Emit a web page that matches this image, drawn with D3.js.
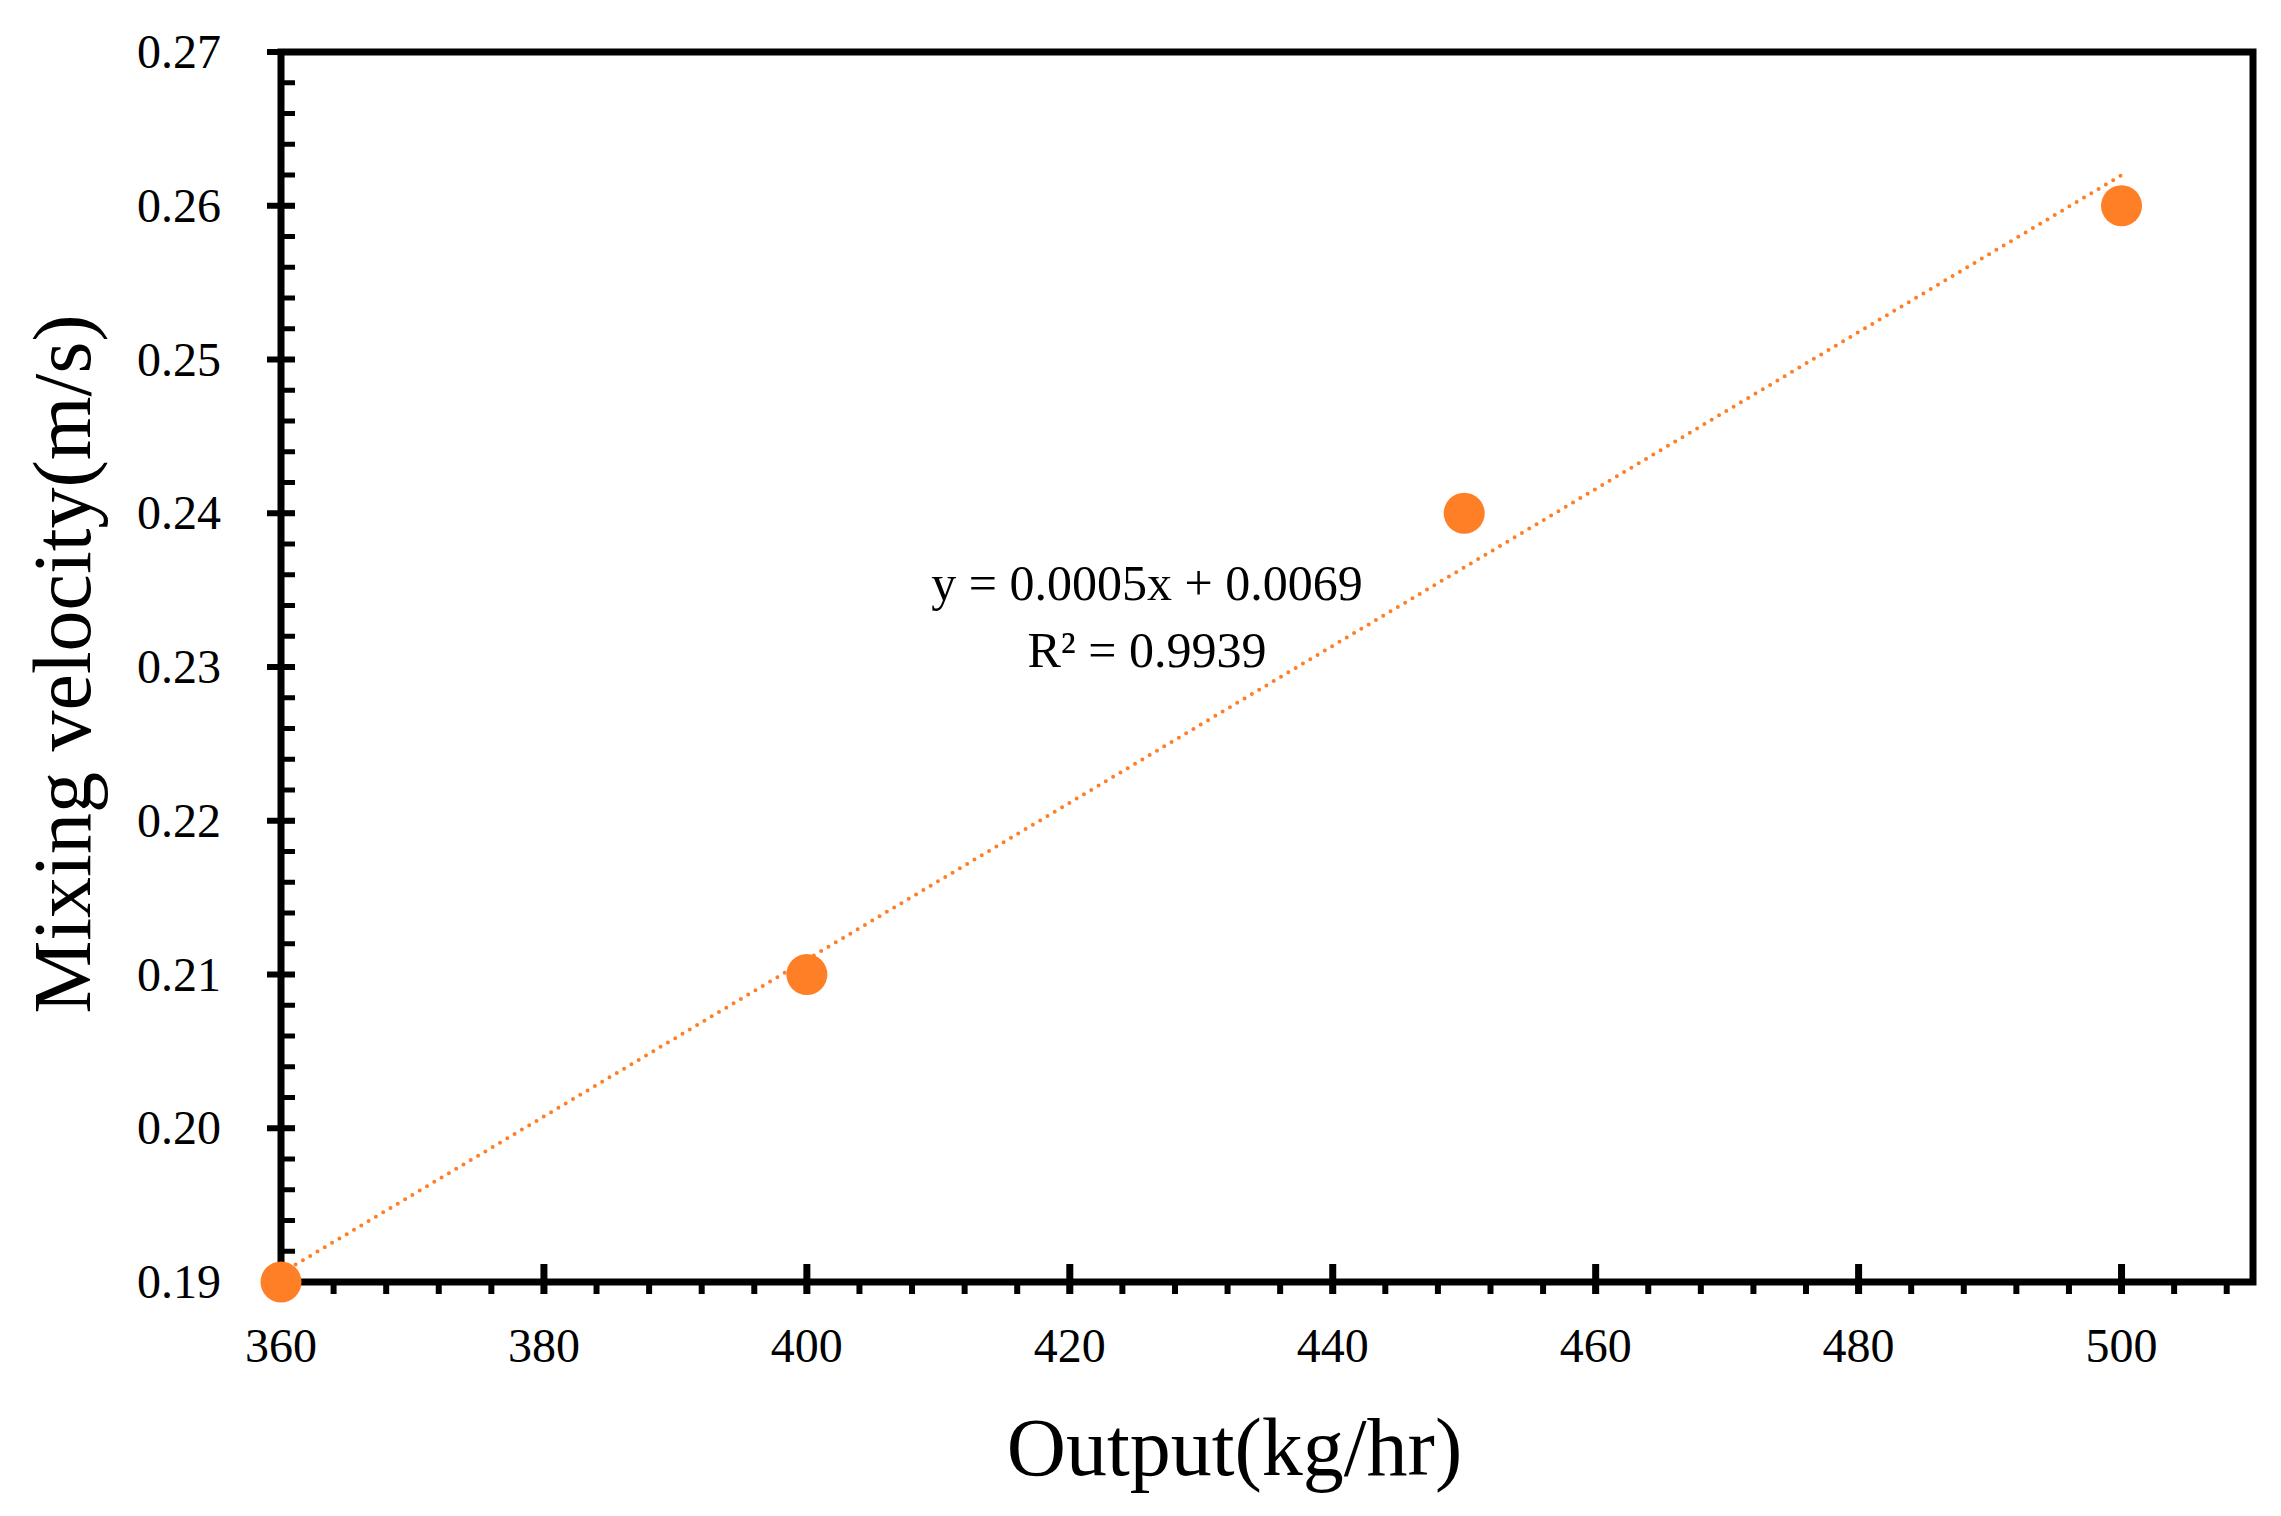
<!DOCTYPE html><html><head><meta charset="utf-8">
<script src="https://cdn.jsdelivr.net/npm/d3@7"></script>
<style>body{margin:0;background:#fff}</style></head><body>
<script>
const xValues=[360,400,450,500];
const yValues=[0.19,0.21,0.24,0.26];
const xTicks=[360,380,400,420,440,460,480,500];
const yTicks=[0.19,0.20,0.21,0.22,0.23,0.24,0.25,0.26,0.27];
const equationLines=["y = 0.0005x + 0.0069","R² = 0.9939"];

const W=2281,H=1516,L=281,R=2253,T=52,B=1282;
const svg=d3.select("body").append("svg").attr("width",W).attr("height",H).style("font-family","'Liberation Serif',serif");
const x=d3.scaleLinear().domain([360,510]).range([L,R]);
const y=d3.scaleLinear().domain([0.19,0.27]).range([B,T]);
const g=svg.append("g");
// minor ticks
d3.range(360,510.01,4).forEach(v=>{ if(v>360) g.append("line").attr("x1",x(v)).attr("x2",x(v)).attr("y1",B).attr("y2",B+12).attr("stroke","#000").attr("stroke-width",6);});
d3.range(0,41).map(i=>0.19+i*0.002).forEach(v=>g.append("line").attr("x1",L).attr("x2",L+14).attr("y1",y(v)).attr("y2",y(v)).attr("stroke","#000").attr("stroke-width",5));
// major ticks
xTicks.forEach(v=>{g.append("line").attr("x1",x(v)).attr("x2",x(v)).attr("y1",B-18).attr("y2",B+12).attr("stroke","#000").attr("stroke-width",7);
 g.append("text").attr("x",x(v)).attr("y",B+80).attr("text-anchor","middle").attr("font-size",48).text(v);});
yTicks.forEach(v=>{g.append("line").attr("x1",L-14).attr("x2",L+14).attr("y1",y(v)).attr("y2",y(v)).attr("stroke","#000").attr("stroke-width",6);
 g.append("text").attr("x",L-60).attr("y",y(v)+16).attr("text-anchor","end").attr("font-size",48).text(v.toFixed(2));});
g.append("rect").attr("x",L).attr("y",T).attr("width",R-L).attr("height",B-T).attr("fill","none").attr("stroke","#000").attr("stroke-width",7);
// trendline (least squares)
const mx=d3.mean(xValues),my=d3.mean(yValues);
const slope=d3.sum(xValues,(v,i)=>(v-mx)*(yValues[i]-my))/d3.sum(xValues,v=>(v-mx)**2);
const icpt=my-slope*mx;
g.append("line").attr("x1",x(360)).attr("y1",y(slope*360+icpt)).attr("x2",x(500)).attr("y2",y(slope*500+icpt))
 .attr("stroke","#ff7f27").attr("stroke-width",4).attr("stroke-dasharray","0 8.5").attr("stroke-linecap","round");
g.selectAll("circle.p").data(xValues).enter().append("circle").attr("cx",d=>x(d)).attr("cy",(d,i)=>y(yValues[i])).attr("r",20.5).attr("fill","#ff7f27");
equationLines.forEach((t,i)=>g.append("text").attr("x",1147+(i?0:0)).attr("y",600+i*67).attr("text-anchor","middle").attr("font-size",50).text(t));
svg.append("text").attr("x",W/2+94).attr("y",1475).attr("text-anchor","middle").attr("font-size",82).text("Output(kg/hr)");
svg.append("text").attr("transform","translate(90,664) rotate(-90)").attr("text-anchor","middle").attr("font-size",82).text("Mixing  velocity(m/s)");
</script></body></html>
